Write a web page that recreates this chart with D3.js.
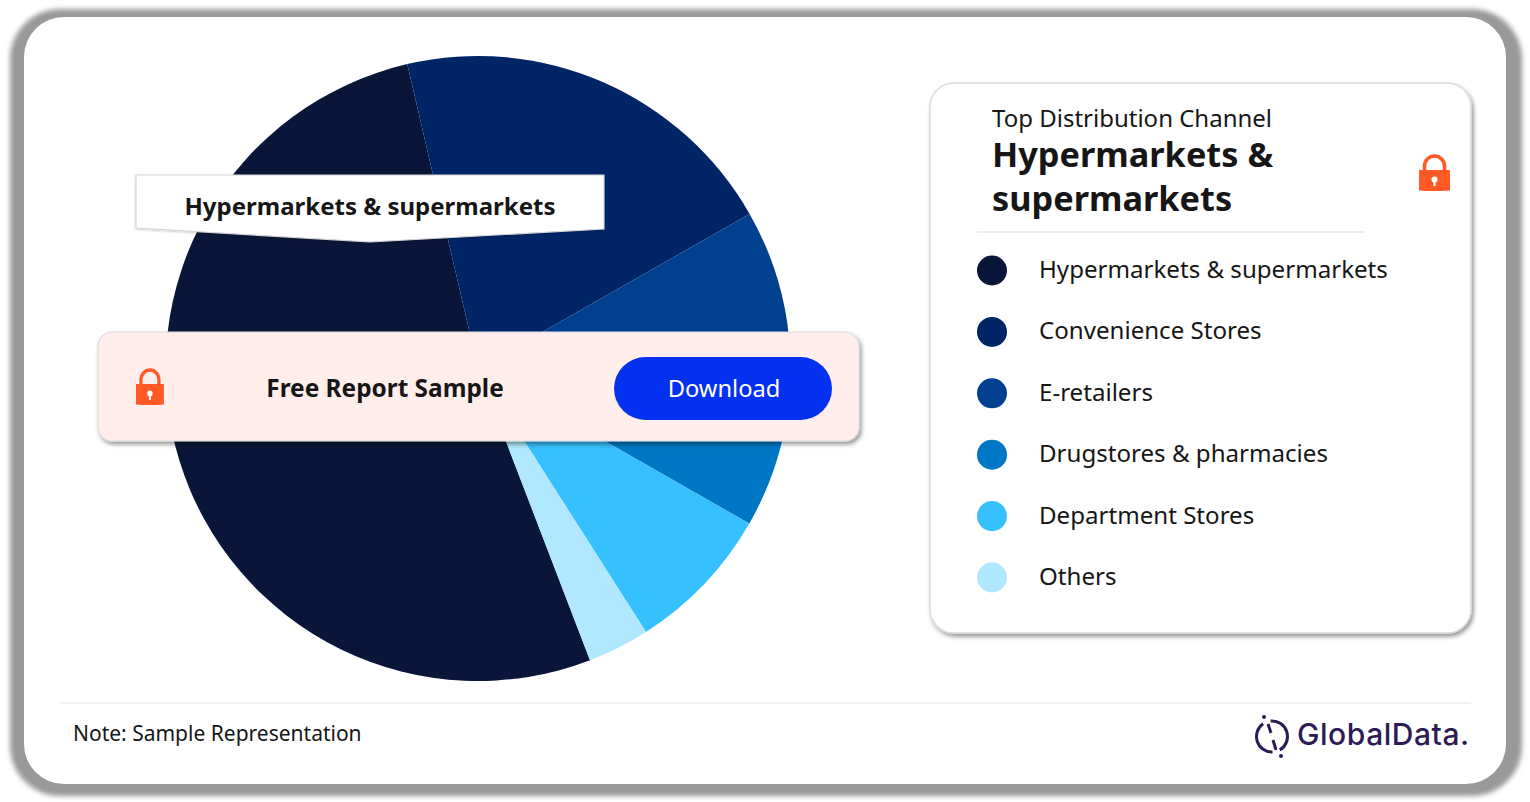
<!DOCTYPE html>
<html lang="en">
<head>
    <meta charset="UTF-8">
    <title>Top Distribution Channel</title>
    <script src="https://d3js.org/d3.v7.min.js"></script>
    <style>
        body { margin: 0; padding: 0; background: #fff; }
        svg { display: block; }
        text { font-family: "Noto Sans", Arial, sans-serif; fill: #161616; }
    </style>
</head>
<body>
    <svg id="chart" width="1530" height="802"></svg>

    <script>
        const categories = ["Hypermarkets & supermarkets", "Convenience Stores", "E-retailers", "Drugstores & pharmacies", "Department Stores", "Others"];
        // shares in %
        const shares = [52.2, 20.4, 8.2, 8.3, 7.7, 3.2];
        const colors = ["#0a1639", "#002567", "#00408f", "#0077c4", "#36c0ff", "#b0e8ff"];
        const titleLines = ["Hypermarkets &", "supermarkets"];

        const svg = d3.select("#chart");
        const defs = svg.append("defs");

        function addShadow(id, dx, dy, blur, opacity) {
            const f = defs.append("filter").attr("id", id)
                .attr("x", "-5%").attr("y", "-10%").attr("width", "110%").attr("height", "120%");
            f.append("feDropShadow").attr("dx", dx).attr("dy", dy)
                .attr("stdDeviation", blur).attr("flood-color", "#000").attr("flood-opacity", opacity);
        }
        addShadow("cardShadow", 2, 3, 2, 0.4);
        addShadow("calloutShadow", 0, 1, 1, 0.2);
        defs.append("filter").attr("id", "frameBlur")
            .attr("x", "-2%").attr("y", "-2%").attr("width", "104%").attr("height", "104%")
            .append("feGaussianBlur").attr("stdDeviation", 2.5);

        // outer frame
        svg.append("rect").attr("x", 10).attr("y", 9).attr("width", 1512).attr("height", 787)
            .attr("rx", 50).attr("fill", "#999").attr("filter", "url(#frameBlur)");
        svg.append("rect").attr("x", 24).attr("y", 17).attr("width", 1482).attr("height", 767)
            .attr("rx", 40).attr("fill", "#fff");

        // pie
        const pie = d3.pie().sort(null)
            .startAngle(159 * Math.PI / 180)
            .endAngle(519 * Math.PI / 180);
        const arc = d3.arc().innerRadius(0).outerRadius(312.5);

        svg.append("g").attr("transform", "translate(478,368.5)")
            .selectAll("path")
            .data(pie(shares))
            .join("path")
            .attr("d", arc)
            .attr("fill", (d, i) => colors[i]);

        // callout over the pie
        svg.append("path")
            .attr("d", "M136,175H604V229L370,242L136,228Z")
            .attr("fill", "#fff").attr("stroke", "#d4d4d4").attr("stroke-width", 1.2)
            .attr("filter", "url(#calloutShadow)");
        svg.append("text").attr("x", 370).attr("y", 215)
            .attr("text-anchor", "middle").attr("font-size", 24).attr("font-weight", 700)
            .text(categories[0]);

        function drawLock(x, y, kx) {
            const g = svg.append("g").attr("transform", `translate(${x},${y}) scale(${kx},1)`);
            g.append("path").attr("d", "M5.5,17V12A10,10 0 0 1 25.5,12V17")
                .attr("fill", "none").attr("stroke", "#ff5a26").attr("stroke-width", 3.6);
            g.append("path").attr("d", "M0,16H31V36.5Q15.5,37.5 0,36.5Z").attr("fill", "#ff5a26");
            g.append("circle").attr("cx", 15.5).attr("cy", 25.5).attr("r", 3).attr("fill", "#fff");
            g.append("rect").attr("x", 14.4).attr("y", 26).attr("width", 2.2).attr("height", 6).attr("fill", "#fff");
        }

        // free sample band
        svg.append("rect").attr("x", 98).attr("y", 332).attr("width", 761).attr("height", 109)
            .attr("rx", 14).attr("fill", "#ffeeeb").attr("stroke", "#dcdcdc").attr("stroke-width", 1.2)
            .attr("filter", "url(#cardShadow)");
        drawLock(136, 368, 0.9);
        svg.append("text").attr("x", 385).attr("y", 396.5)
            .attr("text-anchor", "middle").attr("font-size", 24.4).attr("font-weight", 700)
            .text("Free Report Sample");
        svg.append("rect").attr("x", 614).attr("y", 357).attr("width", 218).attr("height", 63)
            .attr("rx", 31.5).attr("fill", "#0431f0");
        svg.append("text").attr("x", 724).attr("y", 397)
            .attr("text-anchor", "middle").attr("font-size", 23.7).style("fill", "#fff")
            .text("Download");

        // legend card
        svg.append("rect").attr("x", 930).attr("y", 83).attr("width", 541).attr("height", 550)
            .attr("rx", 24).attr("fill", "#fff").attr("stroke", "#dcdcdc").attr("stroke-width", 1.5)
            .attr("filter", "url(#cardShadow)");
        svg.append("text").attr("x", 992).attr("y", 127).attr("font-size", 24)
            .text("Top Distribution Channel");
        svg.selectAll(".title-line")
            .data(titleLines)
            .join("text")
            .attr("class", "title-line")
            .attr("x", 992)
            .attr("y", (d, i) => 167 + i * 44)
            .attr("font-size", 34.3).attr("font-weight", 700)
            .text(d => d);
        svg.append("line").attr("x1", 977).attr("x2", 1365).attr("y1", 232).attr("y2", 232)
            .attr("stroke", "#dddddd").attr("stroke-width", 1.2);
        drawLock(1419, 154, 1);

        const legendY = d3.scalePoint().domain(categories).range([270.5, 577.5]);
        const legend = svg.selectAll(".legend-item")
            .data(categories)
            .join("g")
            .attr("class", "legend-item")
            .attr("transform", d => `translate(0,${legendY(d)})`);
        legend.append("circle").attr("cx", 992).attr("r", 15)
            .attr("fill", (d, i) => colors[i]);
        legend.append("text").attr("x", 1039).attr("y", 7.5).attr("font-size", 24.1)
            .text(d => d);

        // footer
        svg.append("line").attr("x1", 60).attr("x2", 1471).attr("y1", 703).attr("y2", 703)
            .attr("stroke", "#e4e4e4").attr("stroke-width", 1.2);
        svg.append("text").attr("x", 73).attr("y", 741).attr("font-size", 21)
            .text("Note: Sample Representation");

        // logo
        const deg = Math.PI / 180;
        const ring = d3.arc().innerRadius(14).outerRadius(17);
        const logo = svg.append("g").attr("fill", "#2d1b55");
        [[-5, 150], [178, 325]].forEach(a => {
            logo.append("path")
                .attr("transform", "translate(1272,736.5)")
                .attr("d", ring({ startAngle: a[0] * deg, endAngle: a[1] * deg }));
        });
        logo.append("path").attr("d", "M1268,724L1271,733M1273,740L1276,750")
            .attr("fill", "none").attr("stroke", "#2d1b55").attr("stroke-width", 3);
        logo.append("circle").attr("cx", 1264).attr("cy", 717).attr("r", 2);
        logo.append("circle").attr("cx", 1281).attr("cy", 756).attr("r", 2);
        svg.append("text").attr("x", 1297).attr("y", 745).attr("font-size", 30).attr("font-weight", 500)
            .attr("letter-spacing", 0.55)
            .style("font-family", "Inter, sans-serif").style("fill", "#2d1b55")
            .text("GlobalData.");
    </script>
</body>
</html>
